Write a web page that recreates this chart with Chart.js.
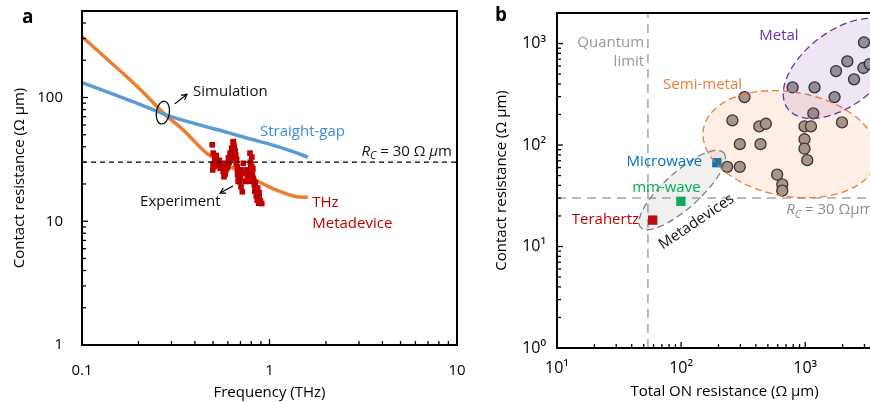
<!DOCTYPE html>
<html>
<head>
<meta charset="utf-8">
<script src="https://cdn.jsdelivr.net/npm/chart.js@4.4.1/dist/chart.umd.min.js"></script>
<style>
  body { margin: 0; background: #fff; width: 870px; height: 402px; overflow: hidden; position: relative; font-family: "Open Sans", sans-serif; }
  .panel { position: absolute; top: 0; }
  .tag { position: absolute; font-weight: bold; font-size: 19px; color: #000; }
</style>
</head>
<body>
<div class="panel" style="left:0"><canvas id="chartA" width="470" height="402"></canvas></div>
<div class="panel" style="left:480px"><canvas id="chartB" width="420" height="402"></canvas></div>
<div class="tag" style="left:22px;top:3px">a</div>
<div class="tag" style="left:495px;top:1px">b</div>
<script>
const FONT = '"Open Sans", sans-serif';

// ---- panel a ----
const FREQ_TICKS = [0.1, 1, 10];
const RC_TICKS_A = [1, 10, 100];
const RC_TARGET = 30;

const FREQ_STRAIGHT = [0.1, 0.15, 0.2, 0.28, 0.4, 0.6, 0.8, 1.0, 1.3, 1.6];
const RC_STRAIGHT = [132, 105, 89, 72.5, 61.5, 52, 46, 42, 37, 33];

const FREQ_META = [0.1, 0.15, 0.2, 0.28, 0.35, 0.46, 0.7, 1.0, 1.2, 1.4, 1.6];
const RC_META = [310, 179, 120, 72, 54, 35.7, 25, 18.9, 16.9, 15.8, 15.6];

const EXP_FREQ = [0.495, 0.501, 0.512, 0.506, 0.498, 0.523, 0.533, 0.545, 0.556, 0.567, 0.572, 0.586,
  0.591, 0.603, 0.616, 0.629, 0.641, 0.649, 0.660, 0.668, 0.673, 0.690, 0.682, 0.696, 0.716, 0.725,
  0.740, 0.762, 0.804, 0.787, 0.820, 0.830, 0.847, 0.861, 0.871, 0.890, 0.909,
  0.51, 0.52, 0.54, 0.50, 0.56, 0.58, 0.60, 0.62, 0.635, 0.655, 0.665, 0.675, 0.68, 0.70, 0.745,
  0.78, 0.79, 0.81, 0.825, 0.835, 0.85, 0.86, 0.875, 0.88, 0.805, 0.787, 0.641, 0.64,
  0.515, 0.528, 0.55, 0.575, 0.595, 0.61, 0.625, 0.645, 0.652, 0.662, 0.678, 0.686, 0.70, 0.705,
  0.75, 0.77, 0.795, 0.815, 0.84, 0.855, 0.868, 0.895, 0.88, 0.865];
const EXP_RC = [41.5, 35.5, 32.4, 27.6, 26.0, 30.3, 28.5, 26.8, 29.4, 25.2, 22.9, 26.0,
  29.4, 32.4, 35.5, 39.0, 42.8, 39.0, 34.4, 31.3, 27.6, 25.2, 22.9, 20.9, 17.3, 29.4,
  24.4, 22.9, 27.6, 25.2, 22.2, 19.6, 18.5, 16.8, 15.3, 14.4, 13.9,
  30, 34, 31, 29, 27, 24, 28, 31, 36, 37, 29, 24, 21, 23, 21,
  21, 30, 24, 21, 17.5, 16, 14.8, 14, 17, 33, 35.5, 44, 38,
  33, 31, 28, 24.5, 27, 30, 33.5, 41, 36.5, 32, 26, 23.5, 26, 19,
  26, 24, 28, 26.5, 20.5, 17.5, 15.8, 14.6, 15.6, 18.5];

// ---- panel b ----
const RON_TICKS = [10, 100, 1000];
const RC_TICKS_B = [1, 10, 100, 1000];
const QUANTUM_LIMIT = 54;

const OTHER_RON = [324, 259, 426, 482, 297, 436, 235, 297, 594, 653, 653, 986, 1112, 986, 986, 1038, 1161, 1977,
  791, 1188, 1722, 1770, 2183, 2472, 2939, 2973, 3306];
const OTHER_RC = [297, 175, 153, 162, 102, 102, 61, 61, 51, 41, 35.5, 153, 153, 114, 92, 71, 205, 167,
  370, 370, 297, 536, 668, 444, 574, 1028, 628];

const META_NAMES = ['Microwave', 'mm-wave', 'Terahertz'];
const META_RON = [194, 99.5, 59];
const META_RC = [67, 27.9, 18.2];
const META_COLORS = ['#0070C0', '#00B050', '#C00000'];

const SUP = { '0': '\u2070', '1': '\u00B9', '2': '\u00B2', '3': '\u00B3', '4': '\u2074' };

const pts = (xs, ys) => xs.map((v, i) => ({ x: v, y: ys[i] }));

// minor/major ticks for a log axis
function logTicks(min, max) {
  const out = [];
  for (let d = Math.floor(Math.log10(min)); d <= Math.ceil(Math.log10(max)); d++) {
    for (let m = 1; m < 10; m++) {
      const v = m * Math.pow(10, d);
      if (v >= min * 0.999 && v <= max * 1.001) out.push({ v, major: m === 1 });
    }
  }
  return out;
}

function drawFrame(chart) {
  const { ctx, chartArea: a, scales: { x, y } } = chart;
  ctx.save();
  ctx.strokeStyle = '#000';
  ctx.lineWidth = 1.3;
  logTicks(x.min, x.max).forEach(t => {
    const px = x.getPixelForValue(t.v);
    ctx.beginPath(); ctx.moveTo(px, a.bottom); ctx.lineTo(px, a.bottom - (t.major ? 6 : 4)); ctx.stroke();
  });
  logTicks(y.min, y.max).forEach(t => {
    const py = y.getPixelForValue(t.v);
    ctx.beginPath(); ctx.moveTo(a.left, py); ctx.lineTo(a.left + (t.major ? 6 : 4), py); ctx.stroke();
  });
  ctx.lineWidth = 2;
  ctx.strokeRect(a.left, a.top, a.right - a.left, a.bottom - a.top);
  ctx.restore();
}

function label(ctx, text, x, y, color, align, size) {
  ctx.font = `${size || 15}px ${FONT}`;
  ctx.fillStyle = color;
  ctx.textAlign = align || 'left';
  ctx.textBaseline = 'middle';
  ctx.fillText(text, x, y);
}

function richText(ctx, parts, x, y, color, align, size) {
  const fontFor = p => `${p.it ? 'italic ' : ''}${p.sub ? size * 0.72 : size}px ${FONT}`;
  let w = 0;
  parts.forEach(p => { ctx.font = fontFor(p); w += ctx.measureText(p.t).width; });
  let cx = align === 'right' ? x - w : x;
  ctx.fillStyle = color;
  ctx.textAlign = 'left';
  ctx.textBaseline = 'middle';
  parts.forEach(p => {
    ctx.font = fontFor(p);
    ctx.fillText(p.t, cx, y + (p.sub ? size * 0.3 : 0));
    cx += ctx.measureText(p.t).width;
  });
}

function arrow(ctx, x1, y1, x2, y2) {
  const ang = Math.atan2(y2 - y1, x2 - x1);
  ctx.save();
  ctx.strokeStyle = '#000';
  ctx.lineWidth = 1.2;
  ctx.beginPath();
  ctx.moveTo(x1, y1); ctx.lineTo(x2, y2);
  ctx.moveTo(x2 - 6 * Math.cos(ang - 0.5), y2 - 6 * Math.sin(ang - 0.5));
  ctx.lineTo(x2, y2);
  ctx.lineTo(x2 - 6 * Math.cos(ang + 0.5), y2 - 6 * Math.sin(ang + 0.5));
  ctx.stroke();
  ctx.restore();
}

// keep chart area where the figure has it: no extra room for edge labels
const noEdgeX = w => s => { s.height = w; s.paddingLeft = 0; s.paddingRight = 0; };
const noEdgeY = w => s => { s.width = w; s.paddingTop = 0; s.paddingBottom = 0; };

const decorA = {
  id: 'decorA',
  afterDraw(chart) {
    const { ctx, scales: { x, y } } = chart;
    const P = (fx, fy) => [x.getPixelForValue(fx), y.getPixelForValue(fy)];
    drawFrame(chart);

    // loop around the two simulated curves
    const [lx, ly] = P(0.27, 75.5);
    ctx.save();
    ctx.strokeStyle = '#000';
    ctx.lineWidth = 1.2;
    ctx.beginPath();
    ctx.ellipse(lx, ly, 6.5, 11.5, 0.15, 0, Math.PI * 2);
    ctx.stroke();
    ctx.restore();

    arrow(ctx, ...P(0.313, 89), ...P(0.363, 106));
    label(ctx, 'Simulation', ...P(0.391, 112), '#111');
    arrow(ctx, ...P(0.639, 19.3), ...P(0.545, 16.9));
    label(ctx, 'Experiment', ...P(0.204, 14.5), '#111');
    label(ctx, 'Straight-gap', ...P(0.89, 53), '#3b8ed8');
    label(ctx, 'THz', ...P(1.69, 14.0), '#C00000');
    label(ctx, 'Metadevice', ...P(1.69, 9.63), '#C00000');
    const [rx, ry] = P(9.4, 36.4);
    richText(ctx, [{ t: 'R', it: true }, { t: 'C', it: true, sub: true }, { t: ' = 30 \u03A9 ' }, { t: '\u03BC', it: true }, { t: 'm' }],
      rx, ry, '#111', 'right', 15);
  }
};

const ELLIPSES = [
  { cx: 757, cy: 102, a: 0.71, b: 0.42, rot: 10, stroke: '#ED7D31', fill: 'rgba(237,125,49,0.12)' },
  { cx: 1950, cy: 570, a: 0.54, b: 0.3, rot: -37, stroke: '#7030A0', fill: 'rgba(112,48,160,0.12)' },
  { cx: 102, cy: 36, a: 0.45, b: 0.145, rot: -42, stroke: '#7f7f7f', fill: 'rgba(128,128,128,0.12)' }
];

const decorB = {
  id: 'decorB',
  afterDatasetsDraw(chart) {
    const { ctx, chartArea: area, scales: { x } } = chart;
    ctx.save();
    ctx.beginPath();
    ctx.rect(area.left, area.top, area.right - area.left, area.bottom - area.top);
    ctx.clip();
    ELLIPSES.forEach(e => {
      const px = x.getPixelForValue(e.cx);
      const py = chart.scales.y.getPixelForValue(e.cy);
      const dec = x.getPixelForValue(e.cx * 10) - px;
      ctx.beginPath();
      ctx.ellipse(px, py, e.a * dec, e.b * dec, e.rot * Math.PI / 180, 0, Math.PI * 2);
      ctx.fillStyle = e.fill;
      ctx.fill();
      ctx.setLineDash([7, 4]);
      ctx.lineWidth = 1.3;
      ctx.strokeStyle = e.stroke;
      ctx.stroke();
    });
    ctx.restore();
  },
  afterDraw(chart) {
    const { ctx, scales: { x, y } } = chart;
    const P = (fx, fy) => [x.getPixelForValue(fx), y.getPixelForValue(fy)];
    drawFrame(chart);
    label(ctx, 'Quantum', ...P(50.4, 1011), '#999', 'right');
    label(ctx, 'limit', ...P(50.4, 657), '#999', 'right');
    label(ctx, 'Metal', ...P(426, 1186), '#7030A0');
    label(ctx, 'Semi-metal', ...P(71.6, 390), '#ED7D31');
    label(ctx, META_NAMES[0], ...P(147.6, 68), META_COLORS[0], 'right');
    label(ctx, META_NAMES[1], ...P(40.3, 37.7), META_COLORS[1]);
    label(ctx, META_NAMES[2], ...P(45.8, 18.2), META_COLORS[2], 'right');
    const [mx, my] = P(133, 17.5);
    ctx.save();
    ctx.translate(mx, my);
    ctx.rotate(-34 * Math.PI / 180);
    label(ctx, 'Metadevices', 0, 0, '#111', 'center');
    ctx.restore();
    const [rx, ry] = P(703, 22.9);
    richText(ctx, [{ t: 'R', it: true }, { t: 'C', it: true, sub: true }, { t: ' = 30 \u03A9\u03BCm' }], rx, ry, '#8c8c8c', 'left', 15);
  }
};

const tickFont = { family: FONT, size: 15 };
const titleFont = { family: FONT, size: 15 };

new Chart(document.getElementById('chartA'), {
  type: 'scatter',
  data: {
    datasets: [
      {
        type: 'line', label: 'R_C', data: pts([0.1, 10], [RC_TARGET, RC_TARGET]),
        borderColor: '#000', borderWidth: 1.2, borderDash: [5, 4], pointRadius: 0, order: 1
      },
      {
        label: 'Experiment', data: pts(EXP_FREQ, EXP_RC), pointStyle: 'rect', pointRadius: 4,
        backgroundColor: '#C00000', borderWidth: 0, order: 2
      },
      {
        type: 'line', label: 'Straight-gap', data: pts(FREQ_STRAIGHT, RC_STRAIGHT),
        borderColor: '#5B9BD5', borderWidth: 3.5, pointRadius: 0, cubicInterpolationMode: 'monotone', order: 3
      },
      {
        type: 'line', label: 'THz Metadevice', data: pts(FREQ_META, RC_META),
        borderColor: '#ED7D31', borderWidth: 3.5, pointRadius: 0, cubicInterpolationMode: 'monotone', order: 3
      }
    ]
  },
  options: {
    responsive: false,
    animation: false,
    layout: { padding: { top: 11, right: 13, left: 0, bottom: 0 } },
    plugins: { legend: { display: false }, tooltip: { enabled: false } },
    scales: {
      x: {
        type: 'logarithmic', min: 0.1, max: 10,
        afterBuildTicks: s => { s.ticks = FREQ_TICKS.map(v => ({ value: v })); },
        afterFit: noEdgeX(57),
        grid: { display: false, drawTicks: false }, border: { display: false },
        ticks: { padding: 17, color: '#000', font: tickFont, maxRotation: 0, autoSkip: false, callback: v => String(v) },
        title: { display: true, text: 'Frequency (THz)', color: '#000', font: titleFont, padding: { top: 0, bottom: 0 } }
      },
      y: {
        type: 'logarithmic', min: 1, max: 500,
        afterBuildTicks: s => { s.ticks = RC_TICKS_A.map(v => ({ value: v })); },
        afterFit: noEdgeY(82),
        grid: { display: false, drawTicks: false }, border: { display: false },
        ticks: { padding: 19, color: '#000', font: tickFont, autoSkip: false, callback: v => String(v) },
        title: { display: true, text: 'Contact resistance (\u03A9 \u03BCm)', color: '#000', font: titleFont, padding: { top: 11, bottom: 0 } }
      }
    }
  },
  plugins: [decorA]
});

new Chart(document.getElementById('chartB'), {
  type: 'scatter',
  data: {
    datasets: [
      {
        type: 'line', label: 'R_C', data: pts([10, 5000], [RC_TARGET, RC_TARGET]),
        borderColor: '#a6a6a6', borderWidth: 1.5, borderDash: [9, 6], pointRadius: 0, order: 3
      },
      {
        type: 'line', label: 'Quantum limit', data: pts([QUANTUM_LIMIT, QUANTUM_LIMIT], [1, 2000]),
        borderColor: '#a6a6a6', borderWidth: 1.5, borderDash: [9, 6], pointRadius: 0, order: 3
      },
      {
        label: 'Reported devices', data: pts(OTHER_RON, OTHER_RC), pointStyle: 'circle', pointRadius: 5.5,
        backgroundColor: '#9a9a9a', borderColor: '#2b2b2b', borderWidth: 1.3, order: 2
      },
      {
        label: 'Metadevices', data: pts(META_RON, META_RC), pointStyle: 'rect', pointRadius: 6.6,
        backgroundColor: META_COLORS, borderWidth: 0, order: 1
      }
    ]
  },
  options: {
    responsive: false,
    animation: false,
    layout: { padding: { top: 13, right: 8, left: 0, bottom: 0 } },
    plugins: { legend: { display: false }, tooltip: { enabled: false } },
    scales: {
      x: {
        type: 'logarithmic', min: 10, max: 5000,
        afterBuildTicks: s => { s.ticks = RON_TICKS.map(v => ({ value: v })); },
        afterFit: noEdgeX(54),
        grid: { display: false, drawTicks: false }, border: { display: false },
        ticks: { padding: 11, color: '#000', font: { family: FONT, size: 16 }, maxRotation: 0, autoSkip: false,
          callback: v => '10' + SUP[Math.round(Math.log10(v))] },
        title: { display: true, text: 'Total ON resistance (\u03A9 \u03BCm)', color: '#000', font: titleFont, padding: { top: 0, bottom: 1 } }
      },
      y: {
        type: 'logarithmic', min: 1, max: 2000,
        afterBuildTicks: s => { s.ticks = RC_TICKS_B.map(v => ({ value: v })); },
        afterFit: noEdgeY(77),
        grid: { display: false, drawTicks: false }, border: { display: false },
        ticks: { padding: 11, color: '#000', font: { family: FONT, size: 16 }, autoSkip: false,
          callback: v => '10' + SUP[Math.round(Math.log10(v))] },
        title: { display: true, text: 'Contact resistance (\u03A9 \u03BCm)', color: '#000', font: titleFont, padding: { top: 13, bottom: 0 } }
      }
    }
  },
  plugins: [decorB]
});
</script>
</body>
</html>
